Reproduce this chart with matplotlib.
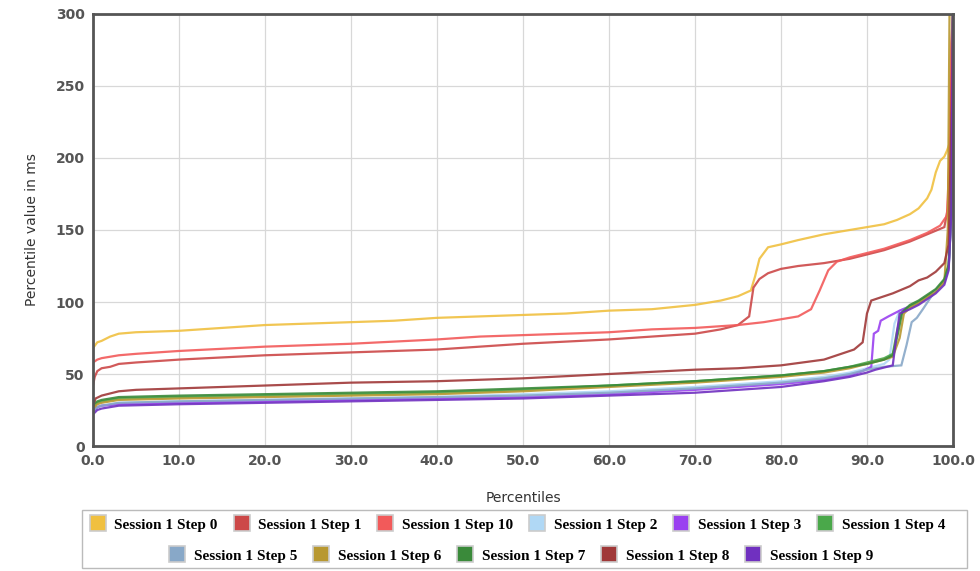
import matplotlib.pyplot as plt
from matplotlib.lines import Line2D
from matplotlib.patches import Rectangle

# ---- data ----
names = ["Session 1 Step 0", "Session 1 Step 1", "Session 1 Step 10", "Session 1 Step 2",
         "Session 1 Step 3", "Session 1 Step 4", "Session 1 Step 5", "Session 1 Step 6",
         "Session 1 Step 7", "Session 1 Step 8", "Session 1 Step 9"]
colors = ["#f0c040", "#cc4848", "#f25a5a", "#b0d8f5", "#9a40f0", "#4aa84a",
          "#88a8c8", "#b89830", "#3a8a3a", "#a03838", "#7030c0"]

step0_p = [0, 0.5, 1, 2, 3, 5, 10, 15, 20, 25, 30, 35, 40, 45, 50, 55, 60, 65, 70, 73, 75, 76.5,
           77, 77.5, 78.5, 80, 82, 85, 88, 90, 92, 93.5, 95, 96, 97, 97.5, 98, 98.5, 99, 99.3,
           99.6, 99.8, 100]
step0_v = [68, 72, 73, 76, 78, 79, 80, 82, 84, 85, 86, 87, 89, 90, 91, 92, 94, 95, 98, 101, 104, 108,
           118, 130, 138, 140, 143, 147, 150, 152, 154, 157, 161, 165, 172, 178, 190, 198, 201, 205,
           210, 260, 300]

step10_p = [0, 0.5, 1, 3, 5, 10, 20, 30, 40, 45, 50, 60, 65, 70, 75, 78, 80, 82, 83.5, 84.5, 85.5,
            86.5, 88, 90, 92, 95, 97, 98.5, 99.3, 99.6, 99.8, 100]
step10_v = [58, 60, 61, 63, 64, 66, 69, 71, 74, 76, 77, 79, 81, 82, 84, 86, 88, 90, 95, 108, 122,
            128, 131, 134, 137, 143, 148, 153, 160, 200, 280, 300]

step1_p = [0, 0.2, 0.5, 1, 2, 3, 5, 10, 20, 30, 40, 45, 50, 60, 70, 73, 75, 76.3, 76.8, 77.5, 78.5,
           80, 82, 85, 88, 90, 92, 95, 97, 99, 99.4, 99.7, 100]
step1_v = [42, 48, 52, 54, 55, 57, 58, 60, 63, 65, 67, 69, 71, 74, 78, 81, 84, 90, 110, 116, 120,
           123, 125, 127, 130, 133, 136, 142, 147, 152, 165, 220, 300]

step8_p = [0, 0.3, 1, 3, 5, 10, 20, 30, 40, 50, 60, 70, 75, 80, 85, 87, 88.5, 89.5, 90, 90.5, 91.5,
           93, 95, 96, 97, 98, 99, 99.5, 99.8, 100]
step8_v = [28, 33, 35, 38, 39, 40, 42, 44, 45, 47, 50, 53, 54, 56, 60, 64, 67, 72, 92, 101, 103,
           106, 111, 115, 117, 121, 127, 140, 220, 300]

step4_p = [0, 0.5, 1, 3, 10, 20, 30, 40, 50, 60, 70, 80, 85, 88, 90, 92, 93, 93.5, 94, 95, 96, 97,
           98, 99, 99.5, 99.8, 100]
step4_v = [27, 30, 31, 33, 34, 35, 36, 37, 39, 42, 45, 49, 52, 55, 58, 61, 64, 80, 92, 97, 100, 104,
           108, 115, 125, 160, 300]

step7_p = [0, 0.5, 1, 3, 10, 20, 30, 40, 50, 60, 70, 80, 85, 88, 90, 92, 93, 93.6, 94.1, 95, 96, 97,
           98, 99, 99.5, 99.8, 100]
step7_v = [29, 31, 32, 34, 35, 36, 37, 38, 40, 42, 45, 49, 52, 55, 57, 60, 63, 78, 93, 98, 101, 105,
           109, 116, 126, 170, 300]

step6_p = [0, 0.5, 1, 3, 10, 20, 30, 40, 50, 60, 70, 80, 85, 88, 90, 92, 93, 93.8, 94.3, 95, 96, 97,
           98, 99, 99.4, 99.6, 100]
step6_v = [26, 29, 30, 32, 33, 34, 35, 36, 38, 41, 44, 48, 51, 54, 57, 60, 62, 75, 92, 96, 99, 103,
           107, 114, 150, 300, 300]

step2_p = [0, 0.5, 1, 3, 10, 20, 30, 40, 50, 60, 70, 80, 85, 88, 90, 92, 92.6, 93.2, 93.8, 95, 96,
           97, 98, 99, 99.5, 99.8, 100]
step2_v = [24, 27, 28, 30, 31, 32, 33, 34, 36, 38, 41, 45, 48, 51, 54, 57, 60, 85, 94, 97, 100, 104,
           108, 114, 124, 160, 300]

step5_p = [0, 0.5, 1, 3, 10, 20, 30, 40, 50, 60, 70, 80, 85, 88, 90, 92, 94, 94.6, 95.2, 95.8, 96.5,
           97.5, 98, 99, 99.5, 99.8, 100]
step5_v = [24, 27, 28, 30, 31, 32, 33, 34, 35, 37, 40, 44, 47, 50, 53, 55, 56, 70, 86, 89, 95, 104,
           108, 114, 124, 160, 300]

step3_p = [0, 0.5, 1, 3, 10, 20, 30, 40, 50, 60, 70, 80, 85, 88, 89.5, 90.5, 90.8, 91.3, 91.6,
           92.5, 93.8, 95, 96, 97, 98, 99, 99.5, 99.8, 100]
step3_v = [24, 27, 28, 29, 30, 31, 32, 33, 34, 36, 39, 43, 46, 49, 52, 55, 78, 80, 87, 90, 94, 97,
           100, 104, 108, 114, 124, 160, 300]

step9_p = [0, 0.5, 1, 3, 10, 20, 30, 40, 50, 60, 70, 80, 85, 88, 90, 91, 93, 93.4, 93.8, 95, 96, 97,
           98, 99, 99.5, 99.8, 100]
step9_v = [22, 25, 26, 28, 29, 30, 31, 32, 33, 35, 37, 41, 45, 48, 51, 53, 56, 75, 92, 95, 98, 102,
           106, 112, 122, 160, 300]

series_p = [step0_p, step1_p, step10_p, step2_p, step3_p, step4_p, step5_p, step6_p, step7_p,
            step8_p, step9_p]
series_v = [step0_v, step1_v, step10_v, step2_v, step3_v, step4_v, step5_v, step6_v, step7_v,
            step8_v, step9_v]

fig = plt.figure(figsize=(9.8, 5.71), dpi=100)
ax = fig.add_axes([0.0949, 0.2189, 0.8775, 0.7566])

for p, v, c in zip(series_p, series_v, colors):
    ax.plot(p, v, color=c, lw=1.6, alpha=0.9, solid_joinstyle="miter")

ax.set_xlim(0, 100)
ax.set_ylim(0, 300)
ax.set_xticks(range(0, 101, 10))
ax.set_xticklabels([f"{x:.1f}" for x in range(0, 101, 10)])
ax.set_yticks(range(0, 301, 50))
ax.grid(True, color="#d8d8d8", lw=0.9)
ax.tick_params(length=0, labelsize=10, labelcolor="#555555", pad=6)
for lab in ax.get_xticklabels() + ax.get_yticklabels():
    lab.set_fontweight("bold")
for s in ax.spines.values():
    s.set_color("#555555")
    s.set_linewidth(2)

ax.set_xlabel("Percentiles", fontsize=10, color="#333333", labelpad=16)
ax.set_ylabel("Percentile value in ms", fontsize=10, color="#333333", labelpad=12)

# legend: two centred rows inside one box
handles = [Line2D([], [], ls="none", marker="s", markersize=12, markerfacecolor=c,
                  markeredgecolor="#cccccc", markeredgewidth=1.2) for c in colors]
leg_font = {"family": "Liberation Serif", "weight": "bold", "size": 11}
kw = dict(frameon=False, prop=leg_font, handlelength=1.0, handletextpad=0.6,
          columnspacing=1.05, borderaxespad=0, borderpad=0)
leg1 = fig.legend(handles[:6], names[:6], ncol=6, loc="center",
                  bbox_to_anchor=(0.528, 0.0806), **kw)
leg2 = fig.legend(handles[6:], names[6:], ncol=5, loc="center",
                  bbox_to_anchor=(0.532, 0.0263), **kw)
fig.add_artist(Rectangle((0.0837, 0.0053), 0.903, 0.1015, transform=fig.transFigure,
                         fill=False, ec="#bbbbbb", lw=1))

fig.savefig("out.png", dpi=100)
